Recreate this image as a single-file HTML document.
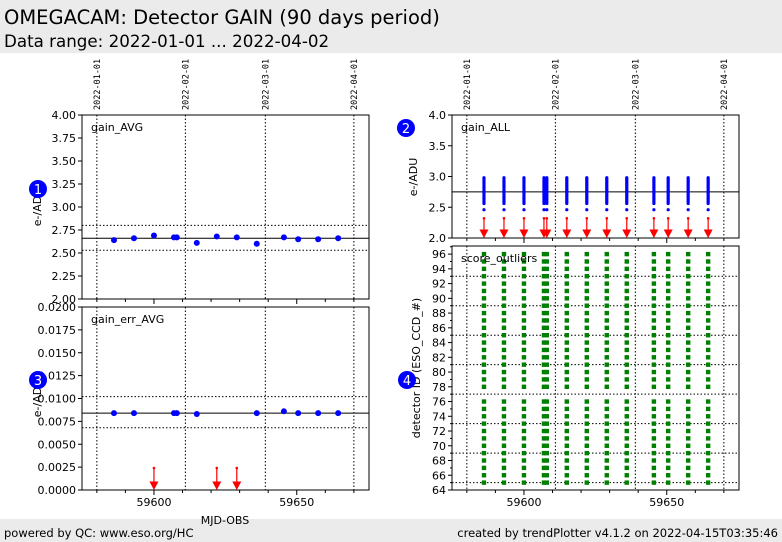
<!DOCTYPE html>
<html><head><meta charset="utf-8">
<style>
html,body{margin:0;padding:0;background:#fff;}
svg{display:block;font-family:"DejaVu Sans","Liberation Sans",sans-serif;}
</style></head>
<body>
<svg id="c" width="782" height="542" xmlns="http://www.w3.org/2000/svg">
<rect x="0" y="0" width="782" height="53" fill="#ebebeb"/>
<text x="4" y="24" font-size="19.5" fill="#000">OMEGACAM: Detector GAIN (90 days period)</text>
<text x="4" y="47" font-size="16.7" fill="#000">Data range: 2022-01-01 ... 2022-04-02</text>
<rect x="0" y="519" width="782" height="23" fill="#ebebeb"/>
<text x="4" y="537" font-size="11.5">powered by QC: www.eso.org/HC</text>
<text x="778" y="537" font-size="11.5" text-anchor="end">created by trendPlotter v4.1.2 on 2022-04-15T03:35:46</text>
<text x="225" y="524" font-size="11" text-anchor="middle">MJD-OBS</text>
</svg>
<script>
const dateLabels=['2022-01-01','2022-02-01','2022-03-01','2022-04-01'];
const dateMjd=[59580,59611,59639,59670];
const avgMjd=[59586,59593,59600,59607,59608,59615,59622,59629,59636,59645.5,59650.5,59657.5,59664.5];
const avgGain=[2.64,2.66,2.69,2.67,2.67,2.61,2.68,2.67,2.60,2.67,2.65,2.65,2.66];
const avgStats=[2.66,2.80,2.53];
const errMjd=[59586,59593,59607,59608,59615,59636,59645.5,59650.5,59657.5,59664.5];
const errVal=[0.0084,0.0084,0.0084,0.0084,0.0083,0.0084,0.0086,0.0084,0.0084,0.0084];
const errStats=[0.0084,0.0102,0.0068];
const errOutMjd=[59600,59622,59629];
const allMjd=[59586,59593,59600,59607,59608,59615,59622,59629,59636,59645.5,59650.5,59657.5,59664.5];
const allGains=[2.98,2.96,2.94,2.92,2.90,2.88,2.86,2.84,2.82,2.80,2.78,2.76,2.74,2.72,2.70,2.68,2.66,2.64,2.62,2.60,2.58,2.56,2.46];
const allMean=2.75;
const outlierTop=2.32;
const detectorIds=[65,66,67,68,69,70,71,72,73,74,75,76,78,79,80,81,82,83,84,85,86,87,88,89,90,91,92,93,94,95,96];
const detGrid=[65,69,73,77,81,85,89,93];
const yTicksAvg=['2.00','2.25','2.50','2.75','3.00','3.25','3.50','3.75','4.00'];
const yTicksErr=['0.0000','0.0025','0.0050','0.0075','0.0100','0.0125','0.0150','0.0175','0.0200'];
const yTicksAll=['2.0','2.5','3.0','3.5','4.0'];
const yTicksDet=[64,66,68,70,72,74,76,78,80,82,84,86,88,90,92,94,96];
const xLabels=[59600,59650];

const NS='http://www.w3.org/2000/svg';
const svg=document.getElementById('c');
function el(t,a,p){const e=document.createElementNS(NS,t);for(const k in a)e.setAttribute(k,a[k]);(p||svg).appendChild(e);return e;}
const XMIN=59574.8,XMAX=59675.3;
function mkPanel(x0,x1,y0,y1,ymin,ymax){return {x0,x1,y0,y1,sx:v=>x0+(v-XMIN)/(XMAX-XMIN)*(x1-x0),sy:v=>y1-(v-ymin)/(ymax-ymin)*(y1-y0)};}
const P1=mkPanel(82,369,115,299,2,4);
const P3=mkPanel(82,369,307,490,0,0.02);
const P2=mkPanel(452,739,115,238,2,4);
const P4=mkPanel(452,739,246,490,64,97.1);

function frame(P,name){
  const g=el('g',{});
  dateMjd.forEach(m=>{const l=el('line',{x1:P.sx(m),x2:P.sx(m),y1:P.y0,y2:P.y1,stroke:'#000','stroke-width':1,'stroke-dasharray':'1.5,2'},g);});
  for(let m=59580;m<=59670;m+=10){const x=P.sx(m);const big=xLabels.includes(m);el('line',{x1:x,x2:x,y1:P.y1,y2:P.y1+(big?5:3),stroke:'#000'},g);}
  return g;
}
function box(P,g){el('rect',{x:P.x0,y:P.y0,width:P.x1-P.x0,height:P.y1-P.y0,fill:'none',stroke:'#000','stroke-width':1},g);}
function hline(P,v,dash,g,name){const l=el('line',{x1:P.x0,x2:P.x1,y1:P.sy(v),y2:P.sy(v),stroke:'#000','stroke-width':1,'stroke-dasharray':dash?'1.5,2':'none'},g);}
function yticks(P,labels,g,name){labels.forEach(s=>{const v=parseFloat(s);const y=P.sy(v);el('line',{x1:P.x0-4,x2:P.x0,y1:y,y2:y,stroke:'#000'},g);const t=el('text',{x:P.x0-6,y:y+4,'font-size':11,'text-anchor':'end'},g);t.textContent=s;});}
function label(P,txt,g){const t=el('text',{x:P.x0+9,y:P.y0+16,'font-size':11},g);t.textContent=txt;}
function arrow(P,m,top,bot,g){const x=P.sx(m),y1=P.sy(top),y2=P.sy(bot);
  const a=el('g',{},g);
  el('line',{x1:x,x2:x,y1:y1,y2:y2-6,stroke:'#f00','stroke-width':1.2},a);
  el('polygon',{points:`${x-4.5},${y2-8.5} ${x+4.5},${y2-8.5} ${x},${y2}`,fill:'#f00'},a);
  el('circle',{cx:x,cy:y1,r:1.3,fill:'#f00'},a);}
function badge(x,y,n){const g=el('g',{});
  el('circle',{cx:x,cy:y,r:9,fill:'#0000ff'},g);const t=el('text',{x:x,y:y+5,'font-size':13,fill:'#fff','text-anchor':'middle'},g);t.textContent=n;}
function ylab(x,y,txt){const t=el('text',{x:x,y:y,'font-size':11,'text-anchor':'middle',transform:`rotate(-90 ${x} ${y})`});t.textContent=txt;}

let g=frame(P1,'gain-avg-panel');
hline(P1,avgStats[0],false,g,'mean-line');hline(P1,avgStats[1],true,g,'upper-limit');hline(P1,avgStats[2],true,g,'lower-limit');
avgMjd.forEach((m,i)=>{const c=el('circle',{cx:P1.sx(m),cy:P1.sy(avgGain[i]),r:3,fill:'#0000ff'},g);});
box(P1,g);yticks(P1,yTicksAvg,g,'y-tick-label');label(P1,'gain_AVG',g);
function dateLbl(P){dateLabels.forEach((d,i)=>{const x=P.sx(dateMjd[i])+3,y=110;const t=el('text',{x:x,y:y,'font-size':8.5,'font-family':'DejaVu Sans Mono, Liberation Mono, monospace',transform:`rotate(-90 ${x} ${y})`});t.textContent=d;});}
dateLbl(P1);dateLbl(P2);

g=frame(P3,'gain-err-panel');
hline(P3,errStats[0],false,g,'mean-line');hline(P3,errStats[1],true,g,'upper-limit');hline(P3,errStats[2],true,g,'lower-limit');
errMjd.forEach((m,i)=>{const c=el('circle',{cx:P3.sx(m),cy:P3.sy(errVal[i]),r:3,fill:'#0000ff'},g);});
errOutMjd.forEach(m=>arrow(P3,m,0.0024,0,g));
box(P3,g);yticks(P3,yTicksErr,g,'y-tick-label');label(P3,'gain_err_AVG',g);
xLabels.forEach(v=>{const t=el('text',{x:P3.sx(v),y:506,'font-size':11,'text-anchor':'middle'},g);t.textContent=v;});

g=frame(P2,'gain-all-panel');
hline(P2,allMean,false,g,'mean-line');
allMjd.forEach(m=>{allGains.forEach(v=>{const c=el('circle',{cx:P2.sx(m),cy:P2.sy(v),r:1.6,fill:'#0000ff'},g);});arrow(P2,m,outlierTop,2.0,g);});
box(P2,g);yticks(P2,yTicksAll,g,'y-tick-label');label(P2,'gain_ALL',g);

g=frame(P4,'score-outliers-panel');
detGrid.forEach(v=>hline(P4,v,true,g,'detector-gridline'));
allMjd.forEach(m=>{detectorIds.forEach(v=>{const r=el('rect',{x:P4.sx(m)-2.2,y:P4.sy(v)-2.2,width:4.4,height:4.4,fill:'#008000'},g);});});
box(P4,g);
for(let v=64;v<=97;v++){const y=P4.sy(v);el('line',{x1:P4.x0-(v%2?2:4),x2:P4.x0,y1:y,y2:y,stroke:'#000'},g);}
yTicksDet.forEach(v=>{const t=el('text',{x:P4.x0-6,y:P4.sy(v)+4,'font-size':11,'text-anchor':'end'},g);t.textContent=v;});
label(P4,'score_outliers',g);
xLabels.forEach(v=>{const t=el('text',{x:P4.sx(v),y:506,'font-size':11,'text-anchor':'middle'},g);t.textContent=v;});

ylab(41,207,'e-/ADU');ylab(41,398,'e-/ADU');ylab(417,177,'e-/ADU');ylab(420,368,'detector ID (ESO_CCD_#)');
badge(38,189,'1');badge(406,128,'2');badge(38,380,'3');badge(407,380,'4');
</script>
</body></html>
